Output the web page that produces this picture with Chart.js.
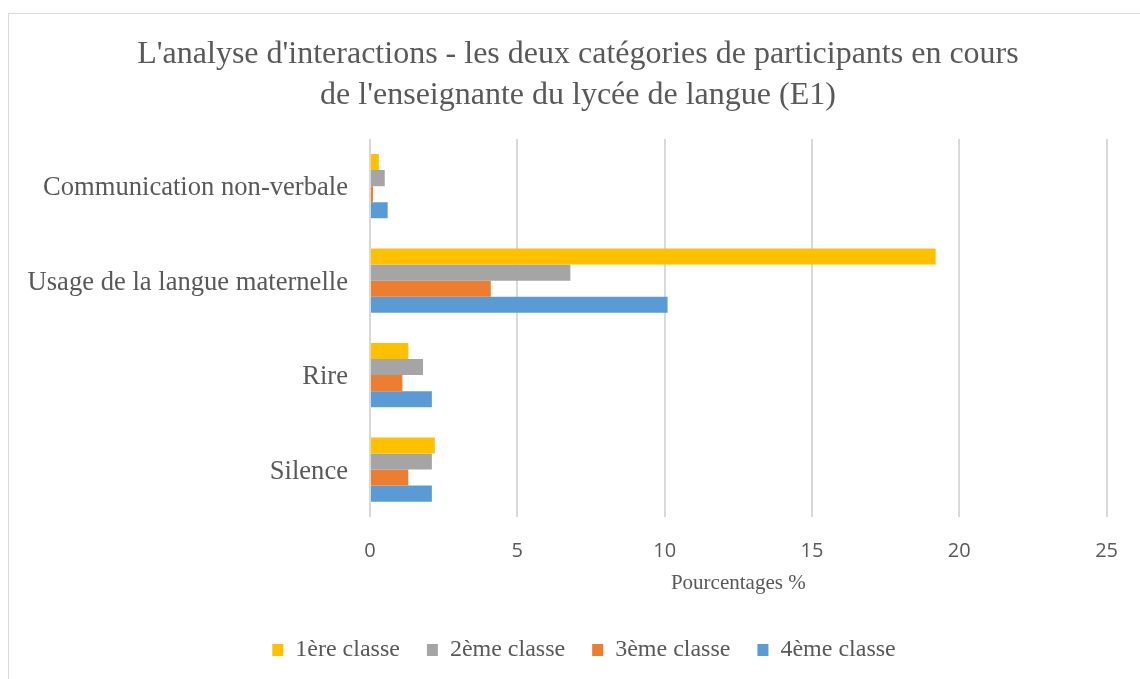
<!DOCTYPE html>
<html>
<head>
<meta charset="utf-8">
<script src="https://cdn.jsdelivr.net/npm/chart.js@4.4.1/dist/chart.umd.min.js"></script>
<style>
  html, body { margin: 0; padding: 0; background: #fff; overflow: hidden; }
  #frame { position: absolute; left: 8px; top: 13px; width: 1200px; height: 720px; border: 1px solid #d9d9d9; box-sizing: border-box; }
  #wrap { position: absolute; left: 0; top: 0; width: 1140px; height: 679px; }
</style>
</head>
<body>
<div id="frame"></div>
<div id="wrap"><canvas id="c" width="1140" height="679"></canvas></div>
<script>
const categories = ["Communication non-verbale", "Usage de la langue maternelle", "Rire", "Silence"];
const seriesNames = ["1ère classe", "2ème classe", "3ème classe", "4ème classe"];
const classe1 = [0.3, 19.2, 1.3, 2.2];
const classe2 = [0.5, 6.8, 1.8, 2.1];
const classe3 = [0.1, 4.1, 1.1, 1.3];
const classe4 = [0.6, 10.1, 2.1, 2.1];
const xTicks = [0, 5, 10, 15, 20, 25];
const titleLines = ["L'analyse d'interactions - les deux catégories de participants en cours", "de l'enseignante du lycée de langue (E1)"];
const axisTitle = "Pourcentages %";

const colors = ["#FFC000", "#A5A5A5", "#ED7D31", "#5B9BD5"];
const values = [classe1, classe2, classe3, classe4];
const textColor = "#595959";
const serif = "'Liberation Serif', 'Times New Roman', serif";

const shiftBoxes = {
  id: 'shiftBoxes',
  afterLayout(chart) {
    if (chart.titleBlock) { chart.titleBlock.left += 23; chart.titleBlock.right += 23; }
    if (chart.legend) { chart.legend.left += 29; chart.legend.right += 29; }
  }
};

new Chart(document.getElementById('c'), {
  type: 'bar',
  data: {
    labels: categories,
    datasets: seriesNames.map((n, i) => ({
      label: n,
      data: values[i],
      backgroundColor: colors[i],
      borderWidth: 0,
      categoryPercentage: 0.68,
      barPercentage: 1.0
    }))
  },
  plugins: [shiftBoxes],
  options: {
    indexAxis: 'y',
    responsive: false,
    animation: false,
    layout: { padding: { top: 13, right: 30, bottom: 7, left: 0 } },
    plugins: {
      title: {
        display: true,
        text: titleLines,
        color: textColor,
        font: { family: serif, size: 32, weight: 'normal', lineHeight: 1.28 },
        padding: { top: 21, bottom: 23 }
      },
      legend: {
        position: 'bottom',
        labels: {
          color: textColor,
          font: { family: serif, size: 24 },
          boxWidth: 11,
          boxHeight: 12,
          padding: 27
        }
      },
      tooltip: { enabled: false }
    },
    scales: {
      x: {
        min: 0, max: 25,
        afterBuildTicks: s => { s.ticks = xTicks.map(v => ({ value: v })); },
        grid: { color: '#d9d9d9', lineWidth: 2, drawTicks: false },
        border: { display: false },
        ticks: { color: textColor, font: { family: "'Open Sans', sans-serif", size: 20 }, padding: 22 },
        title: { display: true, text: axisTitle, color: textColor, font: { family: serif, size: 21 }, padding: { top: -14, bottom: 15 } }
      },
      y: {
        afterFit: s => { s.width = 370; },
        grid: { display: false, drawTicks: false },
        border: { display: false },
        ticks: { color: textColor, font: { family: serif, size: 26.6 }, padding: 22, labelOffset: 2 }
      }
    }
  }
});
</script>
</body>
</html>
